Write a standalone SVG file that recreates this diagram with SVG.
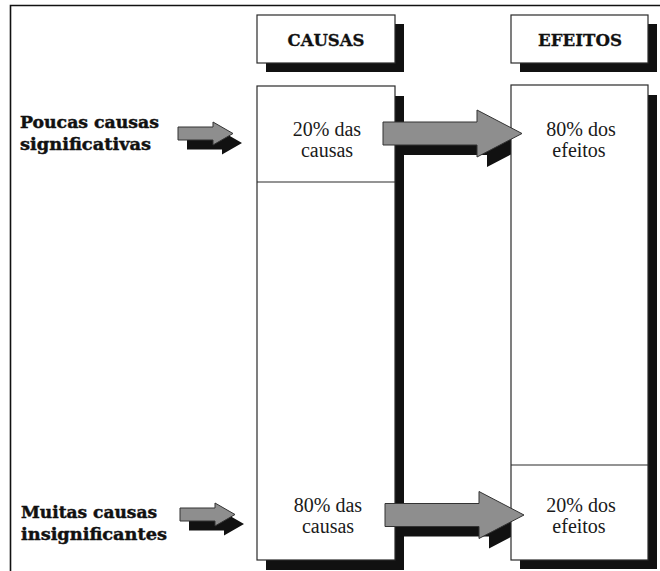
<svg xmlns="http://www.w3.org/2000/svg" width="660" height="571" viewBox="0 0 660 571">
  <style>
    .box { fill: #ffffff; stroke: #2a2a2a; stroke-width: 1.2; }
    .shadow { fill: #111111; }
    .rule { stroke: #2a2a2a; stroke-width: 1.2; }
    .frame { fill: none; stroke: #111111; stroke-width: 1.6; }
    .head { font-family: "DejaVu Serif", "Liberation Serif", serif; font-weight: bold; font-size: 17px; fill: #111; text-anchor: middle; stroke: #111; stroke-width: 0.3; }
    .cell { font-family: "Liberation Serif", "DejaVu Serif", serif; font-size: 20px; fill: #1a1a1a; text-anchor: middle; }
    .label { font-family: "DejaVu Serif", "Liberation Serif", serif; font-weight: bold; font-size: 17px; fill: #111; stroke: #111; stroke-width: 0.45; }
    .arrow { fill: #8e8e8e; stroke: #333; stroke-width: 1; stroke-linejoin: miter; }
    .arrow-shadow { fill: #111111; }
  </style>
  <defs>
    <!-- large block arrow, tail at origin, centred on y=0 -->
    <polygon id="bigArrow" points="0,-11.5 94,-11.5 94,-23.5 139,0 94,23.5 94,11.5 0,11.5"/>
    <!-- small block arrow -->
    <polygon id="smallArrow" points="0,-6.5 35,-6.5 35,-11.5 55,0 35,11.5 35,6.5 0,6.5"/>
  </defs>

  <rect width="660" height="571" fill="#ffffff"/>

  <!-- page frame: top and left rules -->
  <path class="frame" d="M10.5,571 V5.5 H660"/>

  <!-- drop shadows of the headers and columns -->
  <g id="shadows">
    <rect class="shadow" x="266" y="24" width="138" height="48"/>
    <rect class="shadow" x="520" y="24" width="137" height="48"/>
    <rect class="shadow" x="266" y="96" width="138" height="474"/>
    <rect class="shadow" x="520" y="95" width="137" height="474"/>
  </g>

  <!-- arrow shadows sit beneath the columns -->
  <g id="connector-shadows">
    <use href="#bigArrow" class="arrow-shadow" x="393" y="143.5"/>
    <use href="#bigArrow" class="arrow-shadow" x="395" y="525"/>
    <use href="#smallArrow" class="arrow-shadow" x="187" y="143"/>
    <use href="#smallArrow" class="arrow-shadow" x="189" y="524"/>
  </g>

  <g id="header-causas">
    <rect class="box" x="257" y="15" width="138" height="48"/>
    <text class="head" x="326" y="46" textLength="77" lengthAdjust="spacingAndGlyphs">CAUSAS</text>
  </g>

  <g id="header-efeitos">
    <rect class="box" x="511" y="15" width="137" height="48"/>
    <text class="head" x="580" y="46" textLength="84" lengthAdjust="spacingAndGlyphs">EFEITOS</text>
  </g>

  <g id="col-causas">
    <rect class="box" x="257" y="86" width="138" height="474"/>
    <line class="rule" x1="257" y1="182" x2="395" y2="182"/>
    <text class="cell" x="327" y="136">20% das</text>
    <text class="cell" x="327" y="157">causas</text>
    <text class="cell" x="328" y="512">80% das</text>
    <text class="cell" x="328" y="533">causas</text>
  </g>

  <g id="col-efeitos">
    <rect class="box" x="511" y="85" width="137" height="475"/>
    <line class="rule" x1="511" y1="465" x2="648" y2="465"/>
    <text class="cell" x="581" y="136">80% dos</text>
    <text class="cell" x="579" y="157">efeitos</text>
    <text class="cell" x="581" y="512">20% dos</text>
    <text class="cell" x="579" y="533">efeitos</text>
  </g>

  <g id="label-poucas">
    <text class="label" x="20" y="128" textLength="139" lengthAdjust="spacingAndGlyphs">Poucas causas</text>
    <text class="label" x="20" y="150" textLength="131" lengthAdjust="spacingAndGlyphs">significativas</text>
  </g>

  <g id="label-muitas">
    <text class="label" x="21" y="518" textLength="136" lengthAdjust="spacingAndGlyphs">Muitas causas</text>
    <text class="label" x="21" y="540" textLength="146" lengthAdjust="spacingAndGlyphs">insignificantes</text>
  </g>

  <g id="connectors">
    <use href="#smallArrow" class="arrow" x="178" y="133.5"/>
    <use href="#smallArrow" class="arrow" x="180" y="514.5"/>
    <use href="#bigArrow" class="arrow" x="383" y="133.5"/>
    <use href="#bigArrow" class="arrow" x="385" y="515"/>
  </g>
</svg>
